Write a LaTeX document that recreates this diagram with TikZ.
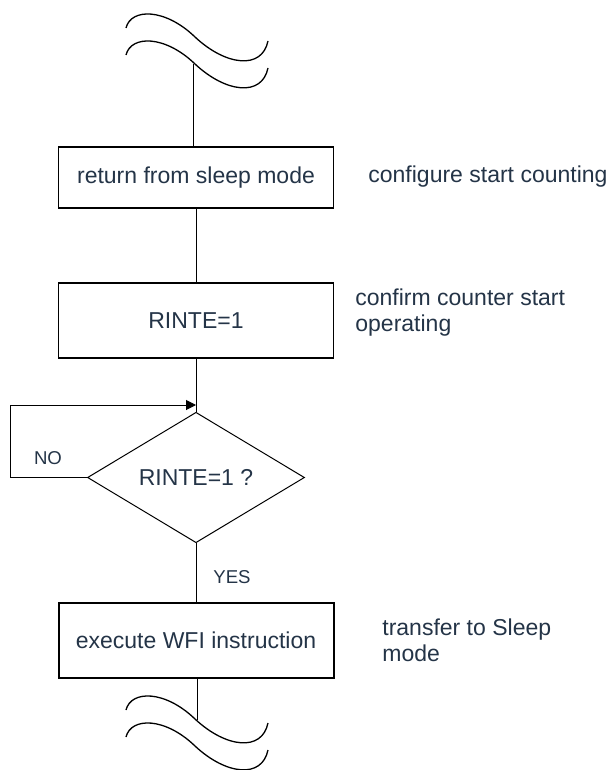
\documentclass[tikz,border=0pt]{standalone}
\usepackage{fontspec}
\setmainfont{Liberation Sans}
\usetikzlibrary{shapes.geometric,arrows.meta}
\definecolor{txtnavy}{HTML}{243447}

\begin{document}
\begin{tikzpicture}[x=0.5pt,y=-0.5pt,
  every node/.style={text=txtnavy,font=\fontsize{11.5}{13}\selectfont},
  procbox/.style={draw=black,line width=0.6pt,minimum width=137.5pt,inner sep=0pt},
  decision/.style={diamond,draw=black,line width=0.5pt,minimum width=108.5pt,minimum height=60pt,inner sep=0pt},
  note/.style={anchor=west,align=left,inner sep=0pt},
  small/.style={font=\fontsize{9.3}{11}\selectfont,inner sep=0pt},
  wire/.style={draw=black,line width=0.5pt},
  wave/.style={draw=black,line width=0.65pt}]

\useasboundingbox (0,0) rectangle (606,770);

% waves
\foreach \dy in {0,27,682,709}
  \draw[wave] (126,28+\dy) .. controls (131,8+\dy) and (165,8+\dy) .. (195,37+\dy)
    .. controls (226,66+\dy) and (262,70+\dy) .. (268,41+\dy);
\coordinate (tw) at (193,64);
\coordinate (bw) at (197,720);

% boxes
\node[procbox,minimum height=30.5pt] (b1) at (196,177.5) {return from sleep mode};
\node[procbox,minimum height=37.5pt] (b2) at (196,320.5) {RINTE=1};
\node[decision] (dec) at (196,477.5) {RINTE=1 ?};
\node[procbox,minimum height=37.5pt,line width=1pt] (b3) at (196,640.5) {execute WFI instruction};

% notes
\node[note] (n1) at (368,177) {configure start counting};
\node[note] (n2) at (355,313) {confirm counter start\\operating};
\node[note] (n3) at (382,640) {transfer to Sleep\\mode};
\node[small] (no) at (48,458) {NO};
\node[small] (yes) at (232,577) {YES};

% lines
\coordinate (loopin) at (196,405);
\draw[wire] (tw) -- (tw |- b1.north);
\draw[wire] (b1) -- (b2);
\draw[wire] (b2) -- (dec);
\draw[wire,-{Triangle[length=5pt,width=5pt]}] (dec.west) -- ++(-77,0) |- (loopin);
\draw[wire] (dec) -- (b3);
\draw[wire] (b3.south -| bw) -- (bw);

\end{tikzpicture}
\end{document}
